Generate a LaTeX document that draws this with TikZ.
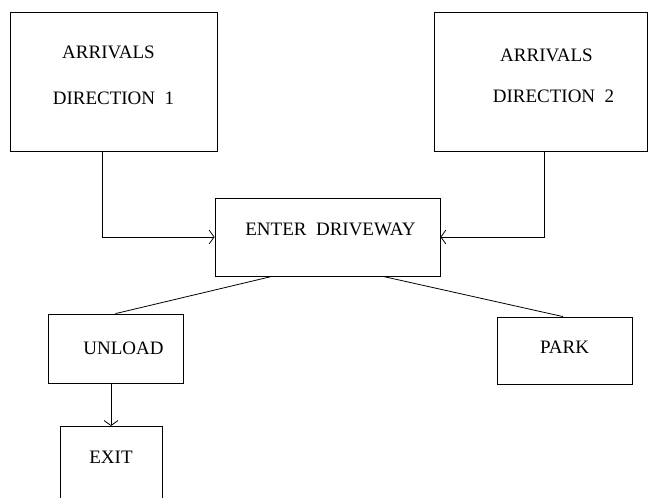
\documentclass[tikz,border=0pt]{standalone}
\usepackage{fontspec}
\setmainfont{Liberation Serif}
\usetikzlibrary{arrows.meta}
\tikzset{
        box/.style={draw, line width=0.8pt, align=center, font=\fontsize{19}{22}\selectfont},
        flow/.style={line width=0.8pt, -{Straight Barb[length=5pt,width=14pt,line width=0.8pt]}},
        link/.style={line width=0.8pt}
}
\begin{document}
\begin{tikzpicture}[x=1pt,y=-1pt]
        \clip (0,0) rectangle (648,498);
        \fill[white] (0,0) rectangle (648,498);

        \node[box, minimum width=207pt, minimum height=139pt] (arr1) at (113.5,81.5) {ARRIVALS\hspace*{10pt}\\[24pt]DIRECTION\ \ 1\\[-10pt]\mbox{}};
        \node[box, minimum width=213pt, minimum height=139pt] (arr2) at (540.5,81.5) {\hspace*{12pt}ARRIVALS\\[19pt]\hspace*{26pt}DIRECTION\ \ 2\\[-10pt]\mbox{}};
        \node[box, minimum width=225pt, minimum height=78pt] (enter) at (327.5,237) {\raisebox{16pt}{\hspace*{6pt}ENTER\ \ DRIVEWAY}};
        \node[box, minimum width=135pt, minimum height=69pt] (unload) at (115.5,348.5) {\hspace*{16pt}UNLOAD};
        \node[box, minimum width=135pt, minimum height=67pt] (park) at (564.5,350.5) {\raisebox{6pt}{PARK}};
        \node[box, minimum width=102pt, anchor=north, text height=12.5pt, text depth=50pt, inner ysep=25pt] (exit) at (111,426) {EXIT};

        \draw[flow] ([xshift=-11.5pt]arr1.south) |- (enter.west);
        \draw[flow] ([xshift=3.5pt]arr2.south) |- (enter.east);
        \draw[link] ([xshift=-55.5pt]enter.south) -- (unload.north);
        \draw[link] ([xshift=55.5pt]enter.south) -- ([xshift=-1.5pt]park.north);
        \draw[flow] (unload.south -| exit.north) -- (exit.north);
\end{tikzpicture}
\end{document}
